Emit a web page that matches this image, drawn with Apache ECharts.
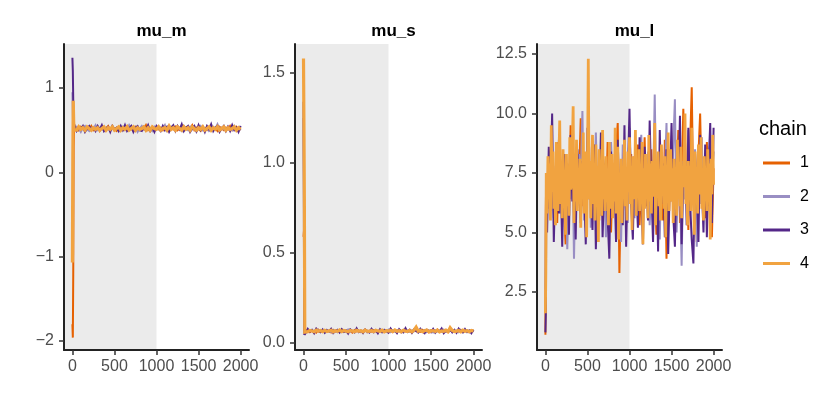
<!DOCTYPE html>
<html>
<head>
<meta charset="utf-8">
<script src="https://cdn.jsdelivr.net/npm/echarts@6/dist/echarts.min.js"></script>
<style>
  html, body { margin: 0; padding: 0; background: #fff; }
  #chart { width: 830px; height: 415px; }
</style>
</head>
<body>
<div id="chart"></div>
<script>
// chain names + colours
var chains = ['1', '2', '3', '4'];
var chainColors = ['#e66101', '#998ec3', '#542788', '#f1a340'];
var panelNames = ['mu_m', 'mu_s', 'mu_l'];
var xTicks = [0, 500, 1000, 1500, 2000];
var warmupEnd = 1000;

// iterations sampled for mu_m / mu_s
var iterMS = [0,5,10,15,20,
  25,50,75,100,125,150,175,200,225,250,275,300,325,350,375,400,425,450,475,500,
  525,550,575,600,625,650,675,700,725,750,775,800,825,850,875,900,925,950,975,1000,
  1025,1050,1075,1100,1125,1150,1175,1200,1225,1250,1275,1300,1325,1350,1375,1400,
  1425,1450,1475,1500,1525,1550,1575,1600,1625,1650,1675,1700,1725,1750,1775,1800,
  1825,1850,1875,1900,1925,1950,1975,2000];

// iterations sampled for mu_l, chains 1-3
var iterL = [0,5,10,
  20,40,60,80,100,120,140,160,180,200,220,240,260,280,300,320,340,360,380,400,
  420,440,460,480,500,520,540,560,580,600,620,640,660,680,700,720,740,760,780,800,
  820,840,860,880,900,920,940,960,980,1000,1020,1040,1060,1080,1100,1120,1140,1160,
  1180,1200,1220,1240,1260,1280,1300,1320,1340,1360,1380,1400,1420,1440,1460,1480,
  1500,1520,1540,1560,1580,1600,1620,1640,1660,1680,1700,1720,1740,1760,1780,1800,
  1820,1840,1860,1880,1900,1920,1940,1960,1980,2000];

// iterations sampled for mu_l, chain 4 (drawn on top, denser)
var iterL4 = [0,5,
  10,20,30,40,50,60,70,80,90,100,110,120,130,140,150,160,170,180,190,200,
  210,220,230,240,250,260,270,280,290,300,310,320,330,340,350,360,370,380,390,400,
  410,420,430,440,450,460,470,480,490,500,510,520,530,540,550,560,570,580,590,600,
  610,620,630,640,650,660,670,680,690,700,710,720,730,740,750,760,770,780,790,800,
  810,820,830,840,850,860,870,880,890,900,910,920,930,940,950,960,970,980,990,1000,
  1010,1020,1030,1040,1050,1060,1070,1080,1090,1100,1110,1120,1130,1140,1150,1160,1170,1180,1190,1200,
  1210,1220,1230,1240,1250,1260,1270,1280,1290,1300,1310,1320,1330,1340,1350,1360,1370,1380,1390,1400,
  1410,1420,1430,1440,1450,1460,1470,1480,1490,1500,1510,1520,1530,1540,1550,1560,1570,1580,1590,1600,
  1610,1620,1630,1640,1650,1660,1670,1680,1690,1700,1710,1720,1730,1740,1750,1760,1770,1780,1790,1800,
  1810,1820,1830,1840,1850,1860,1870,1880,1890,1900,1910,1920,1930,1940,1950,1960,1970,1980,1990,2000];

// mu_m
var muM1 = [-1.80,-1.96,-1.20,0.30,0.51,
  0.51,0.53,0.50,0.54,0.52,0.49,0.53,0.51,0.55,0.50,
  0.52,0.54,0.49,0.53,0.51,0.52,0.55,0.50,0.53,0.51,
  0.49,0.54,0.52,0.50,0.53,0.55,0.51,0.52,0.49,0.54,
  0.52,0.50,0.53,0.51,0.56,0.50,0.52,0.54,0.49,0.53,
  0.51,0.53,0.50,0.55,0.52,0.49,0.53,0.51,0.54,0.50,
  0.52,0.55,0.50,0.53,0.51,0.52,0.56,0.50,0.53,0.51,
  0.49,0.54,0.52,0.50,0.53,0.55,0.51,0.52,0.49,0.54,
  0.52,0.50,0.53,0.51,0.55,0.50,0.52,0.54,0.49,0.52];
var muM2 = [0.95,0.70,0.52,0.50,0.53,
  0.50,0.54,0.52,0.48,0.53,0.55,0.51,0.49,0.53,0.52,
  0.56,0.50,0.51,0.54,0.49,0.53,0.52,0.50,0.55,0.51,
  0.53,0.49,0.52,0.54,0.50,0.51,0.56,0.52,0.50,0.53,
  0.48,0.52,0.55,0.51,0.50,0.53,0.52,0.49,0.54,0.51,
  0.53,0.50,0.52,0.56,0.49,0.51,0.54,0.52,0.50,0.53,
  0.51,0.49,0.55,0.52,0.50,0.54,0.51,0.53,0.48,0.52,
  0.55,0.50,0.52,0.53,0.49,0.51,0.54,0.52,0.57,0.50,
  0.53,0.51,0.49,0.54,0.52,0.50,0.55,0.51,0.52,0.50];
var muM3 = [1.36,1.20,0.85,0.50,0.52,
  0.56,0.49,0.53,0.51,0.55,0.48,0.52,0.55,0.50,0.53,
  0.49,0.55,0.51,0.56,0.49,0.52,0.54,0.48,0.55,0.51,
  0.53,0.49,0.55,0.50,0.56,0.49,0.52,0.55,0.48,0.53,
  0.55,0.50,0.49,0.54,0.51,0.56,0.49,0.53,0.48,0.55,
  0.52,0.49,0.55,0.50,0.54,0.48,0.53,0.56,0.49,0.55,
  0.51,0.57,0.49,0.53,0.55,0.48,0.52,0.55,0.49,0.56,
  0.50,0.54,0.48,0.55,0.51,0.57,0.49,0.53,0.55,0.48,
  0.52,0.55,0.49,0.54,0.49,0.56,0.50,0.53,0.48,0.55];
var muM4 = [-1.07,0.20,0.85,0.60,0.50,
  0.52,0.50,0.54,0.51,0.53,0.50,0.54,0.52,0.50,0.53,
  0.51,0.53,0.50,0.52,0.54,0.50,0.53,0.51,0.54,0.50,
  0.52,0.54,0.50,0.53,0.51,0.54,0.50,0.52,0.54,0.50,
  0.53,0.51,0.52,0.54,0.50,0.53,0.50,0.54,0.52,0.51,
  0.54,0.50,0.52,0.53,0.50,0.55,0.51,0.53,0.50,0.54,
  0.52,0.50,0.54,0.51,0.53,0.50,0.54,0.52,0.50,0.53,
  0.51,0.54,0.50,0.52,0.54,0.50,0.53,0.51,0.54,0.50,
  0.52,0.54,0.50,0.53,0.51,0.52,0.54,0.50,0.53,0.51];

// mu_s
var muS1 = [0.59,0.62,0.30,0.07,0.068,
  0.065,0.072,0.060,0.070,0.066,0.058,0.074,0.063,0.069,0.061,
  0.071,0.066,0.059,0.073,0.064,0.068,0.060,0.075,0.065,0.062,
  0.070,0.067,0.058,0.072,0.064,0.069,0.061,0.066,0.074,0.060,
  0.068,0.063,0.071,0.065,0.059,0.073,0.067,0.062,0.070,0.064,
  0.076,0.061,0.068,0.065,0.072,0.059,0.069,0.066,0.063,0.074,
  0.060,0.070,0.065,0.068,0.062,0.073,0.064,0.067,0.059,0.071,
  0.066,0.063,0.075,0.061,0.069,0.065,0.072,0.060,0.068,0.064,
  0.070,0.062,0.067,0.073,0.061,0.066,0.069,0.063,0.071,0.065];
var muS2 = [1.25,0.55,0.15,0.07,0.064,
  0.070,0.061,0.067,0.074,0.059,0.066,0.071,0.063,0.069,0.058,
  0.073,0.065,0.062,0.070,0.066,0.060,0.072,0.064,0.068,0.061,
  0.075,0.063,0.067,0.059,0.071,0.065,0.062,0.069,0.073,0.060,
  0.066,0.070,0.058,0.068,0.064,0.072,0.061,0.067,0.065,0.074,
  0.060,0.069,0.063,0.071,0.066,0.059,0.073,0.064,0.068,0.062,
  0.070,0.065,0.076,0.061,0.067,0.063,0.072,0.060,0.069,0.066,
  0.058,0.071,0.064,0.068,0.062,0.074,0.065,0.061,0.070,0.067,
  0.063,0.069,0.060,0.072,0.066,0.064,0.071,0.059,0.068,0.065];
var muS3 = [1.34,0.90,0.044,0.07,0.075,
  0.056,0.078,0.063,0.071,0.054,0.080,0.066,0.060,0.075,0.057,
  0.072,0.064,0.079,0.055,0.068,0.073,0.058,0.077,0.062,0.070,
  0.053,0.076,0.065,0.059,0.081,0.061,0.069,0.055,0.074,0.067,
  0.058,0.079,0.063,0.071,0.054,0.076,0.060,0.073,0.066,0.057,
  0.080,0.062,0.070,0.055,0.077,0.064,0.059,0.082,0.061,0.072,
  0.056,0.075,0.067,0.058,0.079,0.063,0.054,0.074,0.069,0.060,
  0.078,0.057,0.071,0.065,0.081,0.055,0.068,0.062,0.076,0.059,
  0.073,0.056,0.080,0.064,0.058,0.077,0.061,0.070,0.054,0.074];
var muS4 = [1.58,1.22,0.80,0.06,0.066,
  0.068,0.063,0.070,0.066,0.062,0.071,0.065,0.069,0.063,0.070,
  0.064,0.067,0.071,0.062,0.068,0.065,0.072,0.063,0.069,0.066,
  0.062,0.070,0.067,0.063,0.070,0.065,0.068,0.062,0.071,0.066,
  0.064,0.069,0.063,0.071,0.067,0.065,0.071,0.062,0.068,0.066,
  0.070,0.063,0.072,0.065,0.068,0.063,0.071,0.066,0.064,0.069,
  0.062,0.071,0.088,0.065,0.070,0.063,0.068,0.072,0.063,0.066,
  0.069,0.064,0.071,0.062,0.067,0.065,0.071,0.063,0.085,0.070,
  0.064,0.066,0.069,0.062,0.071,0.065,0.068,0.063,0.070,0.066];

// mu_l
var muL1 = [0.7,6.0,7.4,
  6.8,7.9,5.9,8.4,6.5,7.2,5.4,8.1,6.9,7.6,
  6.2,4.5,7.8,6.6,9.5,7.0,5.8,8.3,6.4,7.3,
  9.8,6.1,7.7,5.2,8.0,6.9,7.4,5.9,8.6,6.7,
  7.1,5.5,8.2,6.3,7.9,6.0,8.8,6.8,5.0,7.5,
  6.6,8.4,9.6,3.3,7.2,6.4,8.1,5.7,7.6,6.9,
  8.3,5.6,7.0,6.2,8.7,5.3,7.4,6.8,9.0,6.1,
  7.7,5.8,8.5,6.5,7.1,4.9,8.0,6.7,7.3,5.5,
  8.9,3.9,7.5,6.3,8.2,5.9,7.8,6.6,9.3,5.4,
  7.0,10.2,6.4,7.9,5.1,8.6,11.1,6.2,7.4,4.6,
  8.3,10.0,6.7,7.6,5.6,8.8,6.1,7.2,4.8,7.7];
var muL2 = [2.6,5.5,6.8,
  7.3,6.0,8.4,6.9,5.6,7.8,6.3,8.9,5.8,7.5,
  6.7,8.2,4.3,7.1,6.4,9.0,3.9,7.6,6.1,8.3,
  7.0,10.1,5.5,7.4,6.8,8.6,5.2,7.9,6.5,9.2,
  6.0,7.3,5.7,8.5,6.9,4.8,7.7,6.2,8.8,7.1,
  5.9,8.0,6.6,7.5,4.6,8.7,6.3,7.2,5.4,9.4,
  6.8,7.6,5.6,8.1,6.1,7.4,9.1,5.9,7.8,6.4,
  8.4,5.3,7.0,6.7,10.8,6.0,7.9,4.7,8.2,6.5,
  7.3,9.6,5.8,7.1,6.3,8.6,10.6,5.0,7.6,6.9,
  3.6,8.0,6.4,7.4,9.3,5.7,7.2,6.6,8.5,4.4,
  7.7,6.2,9.0,5.5,7.5,6.8,8.1,5.1,7.0,8.4];
var muL3 = [0.8,1.6,6.5,
  5.0,8.6,6.9,10.0,4.6,7.3,8.8,5.8,7.6,4.4,
  8.3,6.6,7.9,4.9,9.1,6.3,7.4,4.7,8.5,6.8,
  5.4,8.0,7.1,4.5,9.4,6.4,7.7,5.1,8.7,4.3,
  7.5,6.2,9.2,4.8,7.0,8.1,5.6,3.9,8.4,6.7,
  7.2,4.6,8.9,6.0,7.8,5.3,9.5,4.4,7.4,10.2,
  6.1,4.7,8.2,7.0,5.2,9.0,6.5,4.5,8.6,7.3,
  5.5,9.7,6.8,4.6,8.0,7.5,4.2,9.3,6.2,7.9,
  4.8,8.5,4.1,7.1,9.6,5.7,4.4,8.1,6.6,9.9,
  4.5,7.6,8.8,5.3,9.4,6.3,4.7,3.7,8.3,7.0,
  4.6,9.1,6.9,5.0,8.7,4.8,7.8,9.6,5.4,9.4];
var muL4 = [1.6,3.3,
  7.5,5.8,8.2,6.4,7.9,5.5,9.5,6.7,8.4,6.0,
  7.6,5.3,8.8,6.9,5.9,8.0,9.7,6.2,7.3,5.6,
  8.5,6.6,7.2,4.9,8.3,6.1,7.8,5.7,9.0,6.8,
  7.0,8.6,10.3,5.4,7.7,6.3,8.9,5.9,7.4,6.5,
  8.1,5.2,7.9,6.7,9.2,5.8,7.1,8.4,4.8,7.6,
  12.3,6.4,8.0,5.6,7.5,9.1,6.2,7.3,5.5,8.7,
  6.1,7.8,4.6,8.5,6.9,7.2,5.7,9.3,6.4,7.7,
  5.9,8.2,6.6,7.4,5.3,8.8,6.0,7.1,8.3,5.6,
  7.9,6.3,9.4,5.8,7.0,8.6,4.7,7.5,6.5,8.1,
  5.4,7.3,6.8,8.9,6.1,7.6,5.5,8.4,6.7,9.0,
  6.2,7.8,5.1,8.2,7.0,6.4,9.3,5.7,7.5,6.9,
  8.5,5.9,7.2,6.6,8.8,4.5,7.7,6.0,8.3,6.8,
  7.4,5.6,9.1,6.3,7.9,5.8,8.0,6.5,7.1,9.6,
  5.3,7.6,6.9,8.4,6.1,7.3,5.5,8.7,6.6,7.8,
  6.0,8.2,4.8,7.5,6.7,9.2,5.9,7.0,8.5,6.3,
  7.7,5.4,8.1,6.8,7.2,5.7,8.9,6.4,7.9,6.1,
  8.6,5.6,7.4,6.9,8.3,10.0,6.2,7.6,5.3,8.0,
  6.5,7.8,5.9,9.4,6.7,7.1,4.9,8.4,6.3,7.5,
  5.8,8.7,6.6,7.3,9.0,6.0,7.7,5.5,8.2,6.8,
  7.2,5.9,8.5,6.4,7.9,4.7,8.1,6.6,9.1,7.0];

var panelIters = [[iterMS, iterMS, iterMS, iterMS], [iterMS, iterMS, iterMS, iterMS], [iterL, iterL, iterL, iterL4]];
var panelValues = [[muM1, muM2, muM3, muM4], [muS1, muS2, muS3, muS4], [muL1, muL2, muL3, muL4]];
var yTicks = [[-2, -1, 0, 1], [0, 0.5, 1.0, 1.5], [2.5, 5.0, 7.5, 10.0, 12.5]];
var yRange = [[-2.107, 1.522], [-0.039, 1.661], [0.06, 12.92]];
var gridLeft = [64, 295, 537];
var gridWidth = [185, 187, 185];
var lineWidths = [[2, 2, 2, 3.2], [2, 2, 2, 3.2], [2, 2, 2, 2.8]];

var chart = echarts.init(document.getElementById('chart'));
var fontFamily = '"Liberation Sans", Arial, Helvetica, sans-serif';

function pair(iters, vals) {
    var res = [];
    for (var i = 0; i < vals.length; i++) {
        res.push([iters[i], vals[i]]);
    }
    return res;
}

function fmtY(p) {
    return function (v) {
        var s = p === 0 ? String(Math.abs(v)) : Math.abs(v).toFixed(1);
        return v < 0 ? '\u2212' + s : s;
    };
}

var grids = [], xAxes = [], yAxes = [], series = [], titles = [];
for (var p = 0; p < 3; p++) {
    grids.push({ left: gridLeft[p], width: gridWidth[p], top: 44, height: 306 });
    xAxes.push({
        type: 'value', gridIndex: p, min: -100, max: 2100,
        axisLine: { onZero: false, lineStyle: { color: '#222', width: 2 } },
        axisTick: { customValues: xTicks, length: 5, lineStyle: { color: '#333', width: 1.5 } },
        axisLabel: { customValues: xTicks, color: '#4d4d4d', fontSize: 16, fontFamily: fontFamily, margin: 9,
            formatter: function (v) { return String(v); } },
        splitLine: { show: false },
        z: 10
    });
    yAxes.push({
        type: 'value', gridIndex: p, min: yRange[p][0], max: yRange[p][1],
        axisLine: { show: true, onZero: false, lineStyle: { color: '#222', width: 2 } },
        axisTick: { show: true, customValues: yTicks[p], length: 5, lineStyle: { color: '#333', width: 1.5 } },
        axisLabel: { customValues: yTicks[p], color: '#4d4d4d', fontSize: 16, fontFamily: fontFamily, margin: 10,
            formatter: fmtY(p) },
        splitLine: { show: false },
        z: 10
    });
    titles.push({
        text: panelNames[p], left: gridLeft[p] + gridWidth[p] / 2, top: 18, textAlign: 'center',
        textStyle: { fontSize: 17, fontWeight: 'bold', color: '#000', fontFamily: fontFamily }
    });
    for (var c = 0; c < 4; c++) {
        var s = {
            name: chains[c], type: 'line', xAxisIndex: p, yAxisIndex: p,
            data: pair(panelIters[p][c], panelValues[p][c]),
            showSymbol: false, symbol: 'none',
            lineStyle: { color: chainColors[c], width: lineWidths[p][c], join: 'miter' },
            itemStyle: { color: chainColors[c] },
            animation: false, silent: true
        };
        if (c === 0) {
            // warmup shading
            s.markArea = {
                silent: true,
                itemStyle: { color: '#ebebeb' },
                data: [[{ xAxis: -100 }, { xAxis: warmupEnd }]]
            };
        }
        series.push(s);
    }
}

titles.push({
    text: 'chain', left: 754, top: 114,
    textStyle: { fontSize: 20, fontWeight: 'normal', color: '#000', fontFamily: fontFamily }
});

var option = {
    backgroundColor: '#fff',
    animation: false,
    title: titles,
    legend: {
        data: chains,
        orient: 'vertical',
        left: 758, top: 148,
        icon: 'rect',
        itemWidth: 27, itemHeight: 3,
        itemGap: 13.5,
        selectedMode: false,
        textStyle: { fontSize: 16, color: '#000', fontFamily: fontFamily, lineHeight: 20, padding: [0, 0, 0, 5] }
    },
    grid: grids,
    xAxis: xAxes,
    yAxis: yAxes,
    series: series
};

chart.setOption(option);
</script>
</body>
</html>
